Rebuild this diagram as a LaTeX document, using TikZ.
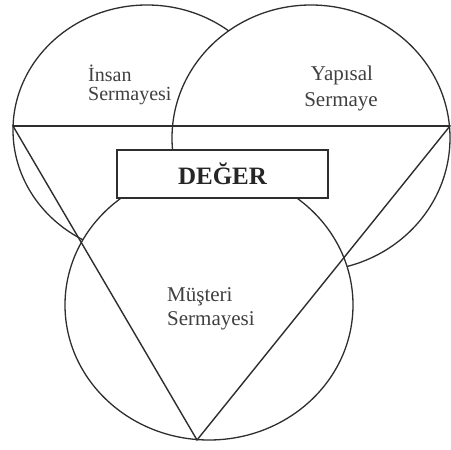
\documentclass[tikz,border=0pt]{standalone}
\usepackage{fontspec}
\setmainfont{Liberation Serif}
\definecolor{linegray}{HTML}{2E2E2E}
\definecolor{textgray}{HTML}{404040}
\begin{document}
\begin{tikzpicture}[x=1pt,y=-1pt,
  ring/.style={draw=linegray, line width=1.3pt, fill=white},
  edge/.style={draw=linegray, line width=1.4pt, line join=miter},
  lbl/.style={inner sep=0pt, text=textgray, font=\fontsize{20}{24}\selectfont},
  valbox/.style={draw=linegray, line width=1.5pt, fill=white, minimum width=211pt, minimum height=48pt, inner sep=0pt, text=black!85, font=\fontsize{25}{28}\selectfont\bfseries}]
\useasboundingbox (0,0) rectangle (451,450);
% circles (back to front)
\draw[ring] (147,130) circle [x radius=134pt, y radius=125pt];
\draw[ring] (311,138) circle [x radius=139pt, y radius=133pt];
\draw[ring] (209,305) circle [x radius=144pt, y radius=135pt];
% triangle
\coordinate (L) at (13,126);
\coordinate (R) at (450,126);
\coordinate (B) at (197,440);
\draw[edge] (L) -- (R) -- (B) -- cycle;
\draw[edge, line width=1.9pt] (L) -- (R);
% value box
\node[valbox] (deger) at (222.5,174) {DEĞER};
% labels
\node[lbl, anchor=base west] (ins1) at (88,81) {İnsan};
\node[lbl, anchor=base west] (ins2) at (88,100) {Sermayesi};
\node[lbl, anchor=base, font=\fontsize{21}{24}\selectfont] (yap1) at (342,80) {Yapısal};
\node[lbl, anchor=base, font=\fontsize{21}{24}\selectfont] (yap2) at (341,106) {Sermaye};
\node[lbl, anchor=base west, font=\fontsize{21}{24}\selectfont] (mus1) at (167,301) {Müşteri};
\node[lbl, anchor=base west, font=\fontsize{21}{24}\selectfont] (mus2) at (167,325) {Sermayesi};
\end{tikzpicture}
\end{document}
